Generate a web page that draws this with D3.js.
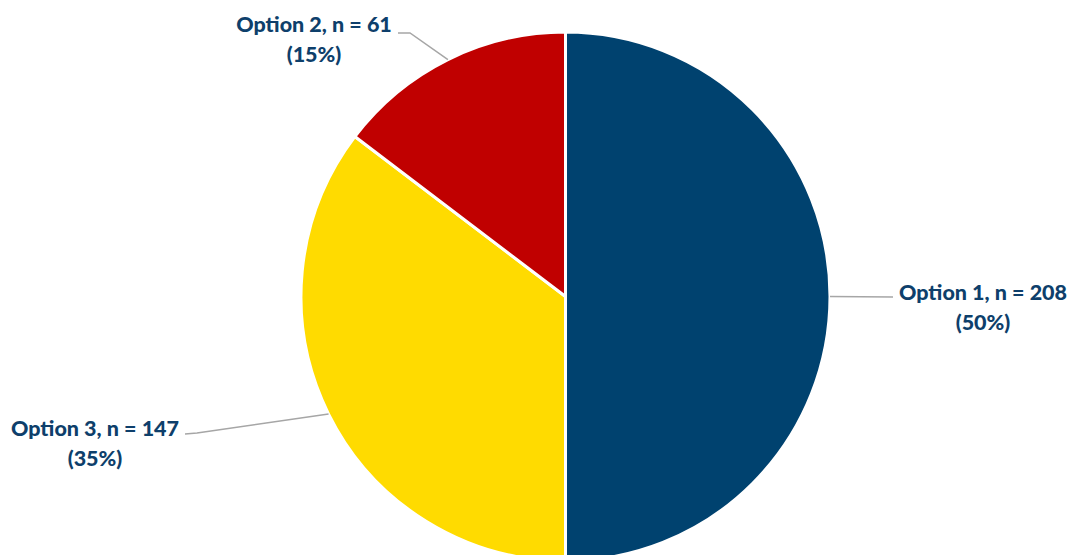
<!DOCTYPE html>
<html>
<head>
<meta charset="utf-8">
<script src="https://cdn.jsdelivr.net/npm/d3@7"></script>
<style>
  body { margin: 0; background: #fff; }
  svg text { font-family: Lato, "Liberation Sans", sans-serif; font-weight: 900; }
</style>
</head>
<body>
<div id="chart"></div>
<script>
// drawing order, clockwise from 12 o'clock
const categories = ['Option 1', 'Option 3', 'Option 2'];
const counts = [208, 147, 61];
const percents = ['50%', '35%', '15%'];
const colors = ['#00426F', '#FFDB00', '#C00000'];

const svgWidth = 1070, svgHeight = 555;
const cx = 565.5, cy = 296.5, radius = 264.5;

// where each label sits: elbow of leader line, and text anchor point
const labelLayout = [
    {elbow: [893, 297], end: [893, 297], tx: 983, ty: 300},
    {elbow: [197, 433], end: [185, 434], tx: 95, ty: 436},
    {elbow: [410, 33], end: [398, 33], tx: 314, ty: 32}
];

const svg = d3.select('#chart').append('svg')
    .attr('width', svgWidth).attr('height', svgHeight);

const data = categories.map((c, i) => ({name: c, n: counts[i], pct: percents[i], color: colors[i]}));

const pie = d3.pie().sort(null).value(d => d.n);
const arc = d3.arc().innerRadius(0).outerRadius(radius);
const arcs = pie(data);

const g = svg.append('g').attr('transform', `translate(${cx},${cy})`);

g.selectAll('path.slice')
    .data(arcs)
    .join('path')
    .attr('class', 'slice')
    .attr('d', arc)
    .attr('fill', d => d.data.color)
    .attr('stroke', '#fff')
    .attr('stroke-width', 3)
    .attr('stroke-linejoin', 'round');

// leader lines
arcs.forEach((a, i) => {
    const mid = (a.startAngle + a.endAngle) / 2;
    const px = cx + Math.sin(mid) * radius;
    const py = cy - Math.cos(mid) * radius;
    const L = labelLayout[i];
    svg.append('polyline')
        .attr('points', [[px, py], L.elbow, L.end].map(p => p.join(',')).join(' '))
        .attr('fill', 'none')
        .attr('stroke', '#A6A6A6')
        .attr('stroke-width', 1.5);

    const t = svg.append('text')
        .attr('x', L.tx).attr('y', L.ty)
        .attr('text-anchor', 'middle')
        .style('font-size', '21.5px')
        .style('fill', '#0E3F6B');
    t.append('tspan').attr('x', L.tx).text(`${a.data.name}, n = ${a.data.n}`);
    t.append('tspan').attr('x', L.tx).attr('dy', 30).text(`(${a.data.pct})`);
});
</script>
</body>
</html>
